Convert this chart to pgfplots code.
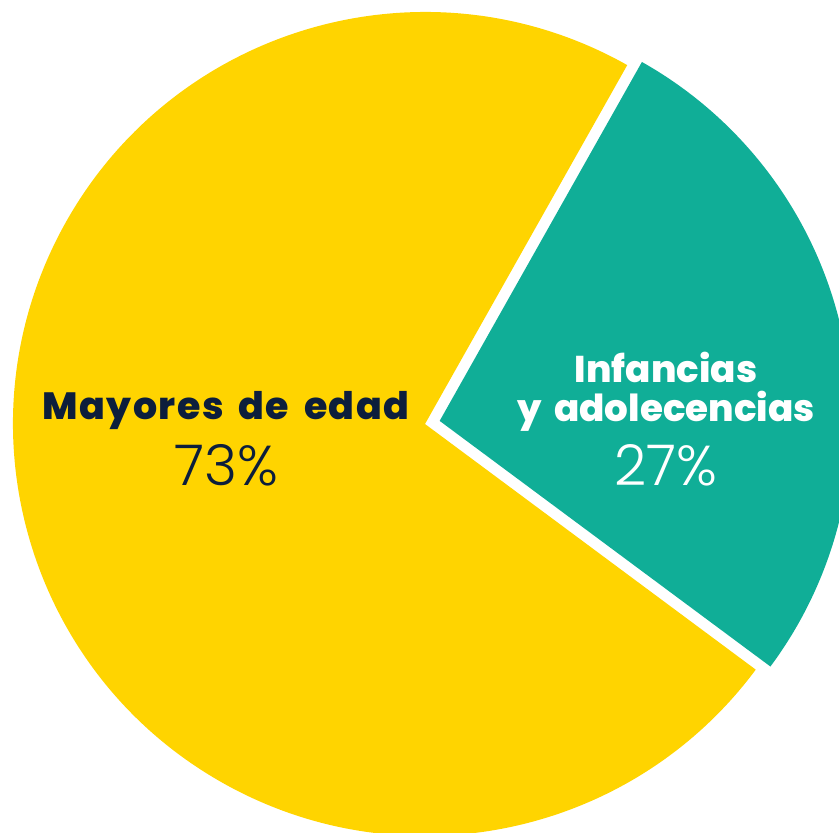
\documentclass[border=0pt]{standalone}
\usepackage{pgfplots}
\usepackage{pgfplotstable}
\pgfplotsset{compat=1.18}
\usepackage{fontspec}
\setmainfont{Poppins}
\newfontfamily\heavy{Poppins ExtraBold}
\newfontfamily\heavywide{Poppins ExtraBold}[LetterSpace=4]
\newfontfamily\light{Poppins Light}

\definecolor{pieyellow}{RGB}{255,212,0}
\definecolor{pieteal}{RGB}{16,174,151}
\definecolor{navy}{RGB}{12,30,60}

% share of each group, in percent
\pgfplotstableread{
group value
adultos 73
ninos 27
}\sharetable

\begin{document}
\begin{tikzpicture}
\pgfplotstablegetelem{0}{value}\of\sharetable \let\va\pgfplotsretval
\pgfplotstablegetelem{1}{value}\of\sharetable \let\vb\pgfplotsretval
% teal slice ends at 60.6 deg, yellow takes the rest
\pgfmathsetmacro{\aend}{60.6}
\pgfmathsetmacro{\astart}{\aend-3.6*\vb}
\pgfmathsetmacro{\yend}{\aend+3.6*\va}
\pgfmathsetmacro{\amid}{(\astart+\aend)/2}
\begin{axis}[
    scale only axis,
    width=8.39cm, height=8.32cm,
    xmin=0, xmax=839, ymin=0, ymax=832,
    hide axis,
    clip=true,
    ]
  \fill[pieyellow] (axis cs:425,408) -- ++(\aend:4.12cm)
      arc[start angle=\aend, end angle=\yend, radius=4.12cm] -- cycle;
  \fill[pieteal] (axis cs:425,408) ++(\amid:0.15cm) -- ++(\astart:4.12cm)
      arc[start angle=\astart, end angle=\aend, radius=4.12cm] -- cycle;

  \node[anchor=base, text=navy, font=\heavywide\fontsize{10.8}{13}\selectfont]
      at (axis cs:226,413) {\spaceskip=4.2pt Mayores de edad};
  \node[anchor=base, text=navy, font=\light\fontsize{16}{18}\selectfont]
      at (axis cs:226,347) {\va\%};
  \node[anchor=base, text=white, font=\heavy\fontsize{10.6}{13}\selectfont]
      at (axis cs:666,450) {Infancias};
  \node[anchor=base, text=white, font=\heavy\fontsize{10.6}{13}\selectfont]
      at (axis cs:666,411) {\spaceskip=3.6pt y adolecencias};
  \node[anchor=base, text=white, font=\light\fontsize{16}{18}\selectfont]
      at (axis cs:666,347) {\vb\%};
\end{axis}
\pgfresetboundingbox
\path (current axis.south west) rectangle (current axis.north east);
\end{tikzpicture}
\end{document}
